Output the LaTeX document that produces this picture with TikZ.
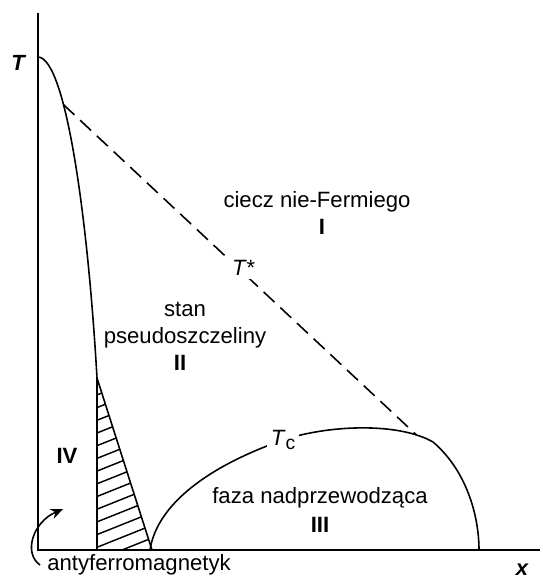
\documentclass[tikz,border=0pt]{standalone}
\usepackage{fontspec}
\setmainfont{Liberation Sans}
\usetikzlibrary{arrows.meta,positioning}

\begin{document}
\begin{tikzpicture}[
		x=0.02cm, y=0.02cm,
		>=Stealth,
		font=\fontsize{12.6}{15}\selectfont,
		axis/.style={line width=1.1pt},
		boundary/.style={line width=0.9pt},
		hatch/.style={line width=0.8pt},
		region/.style={inner sep=0pt, align=center},
		numeral/.style={font=\fontsize{12.6}{15}\selectfont\bfseries, inner sep=0pt},
		axislabel/.style={font=\fontsize{12.5}{14}\selectfont\bfseries\itshape, inner sep=0pt},
		curvelabel/.style={fill=white, inner sep=2pt},
	]
	\useasboundingbox (-38,-28) rectangle (504,550);

	% axes
	\coordinate (origin) at (0,0);
	\coordinate (ytop) at (0,537);
	\coordinate (xend) at (502,0);
	\draw[axis] (ytop) -- (origin) -- (xend);
	\node[axislabel] (tlabel) at (-20,487) {T};
	\node[axislabel] (xlabel) at (484,-20) {x};

	% antiferromagnetic boundary and hatched wedge
	\coordinate (neel) at (0,493);
	\coordinate (hatchtop) at (59,172);
	\coordinate (hatchleft) at (59,0);
	\coordinate (hatchright) at (114,0);
	\draw[boundary] (neel) .. controls (28,492) and (50,330) .. (hatchtop)
	coordinate[pos=0.33] (tstart) -- (hatchleft);
	\begin{scope}
		\clip (hatchtop) -- (hatchleft) -- (hatchright) -- cycle;
		\foreach \h in {-10,2.7,...,180}
		\draw[hatch] (59,\h) -- ++(60,24);
	\end{scope}
	\draw[boundary] (hatchtop) -- (hatchright);

	% superconducting dome
	\coordinate (domeleft) at (112,0);
	\coordinate (tc) at (245,110);
	\coordinate (domeright) at (441,0);
	\draw[boundary] (domeleft) .. controls (118,40) and (160,80) .. (tc)
	.. controls (290,125) and (360,128) .. (395,108)
	coordinate[pos=0.86] (ttouch)
	.. controls (428,80) and (441,35) .. (domeright);
	\node[curvelabel] (tclabel) at (tc) {\textit{T}\raisebox{-0.35ex}{\fontsize{11}{11}\selectfont c}};

	% pseudogap line
	\draw[boundary, dash pattern=on 8.5pt off 4.5pt] (tstart) --
	node[pos=0.51, curvelabel, yshift=3pt] (tstarlabel) {\textit{T*}} (ttouch);

	% regions
	\node[region] (fermi) at (279,348) {ciecz nie-Fermiego};
	\node[numeral] (one) at (284,323) {I};
	\node[region] (pseudo) at (147,225) {stan\\pseudoszczeliny};
	\node[numeral] (two) at (142,187) {II};
	\node[numeral] (four) at (29,94) {IV};
	\node[region] (sc) at (282,52) {faza nadprzewodząca};
	\node[numeral] (three) at (282,25) {III};
	\node[region, anchor=west] (afm) at (9,-15) {antyferromagnetyk};

	\coordinate (afmtail) at (2,-15);
	\coordinate (afmtip) at (25,41);
	\draw[-{Stealth[length=7pt,width=6pt]}, boundary]
	(afmtail) .. controls (-15,-3) and (-5,28) .. (afmtip);

\end{tikzpicture}
\end{document}
